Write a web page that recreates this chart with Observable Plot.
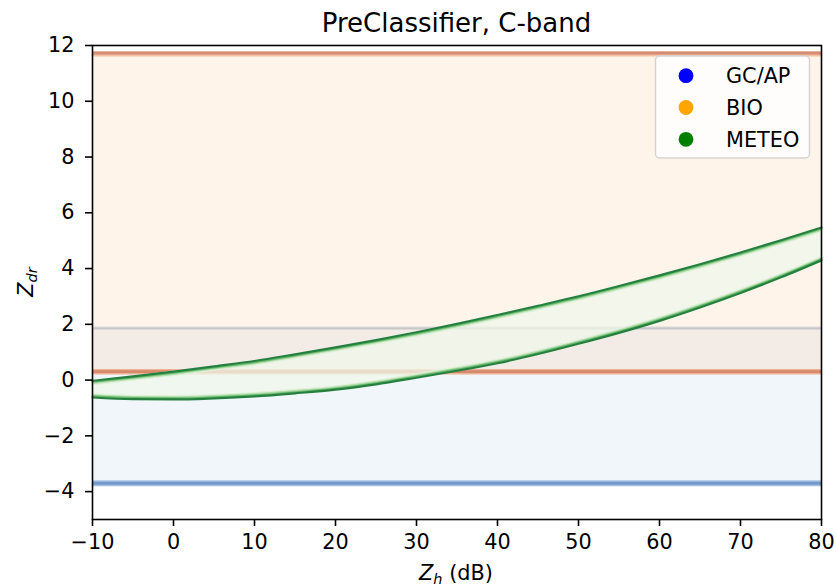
<!DOCTYPE html>
<html><head><meta charset="utf-8">
<script src="https://cdn.jsdelivr.net/npm/d3@7"></script>
<script src="https://cdn.jsdelivr.net/npm/@observablehq/plot@0.6"></script>
<style>
body{margin:0;background:#fff;}
#wrap{width:836px;height:587px;}
</style></head><body><div id="wrap"></div>
<script>
// Data
const zh = [-10,-5,0,5,10,15,20,25,30,35,40,45,50,55,60,65,70,75,80];
const zdrUpper = [0.00,0.16,0.33,0.52,0.71,0.95,1.20,1.46,1.74,2.04,2.36,2.69,3.03,3.40,3.78,4.18,4.60,5.04,5.50];
const zdrLower = [-0.65,-0.71,-0.72,-0.68,-0.61,-0.50,-0.37,-0.18,0.06,0.31,0.58,0.91,1.28,1.67,2.10,2.58,3.10,3.66,4.27];
const gcapLimits = [-3.7, 1.86];
const bioLimits = [0.3, 11.7];
const classes = ["GC/AP","BIO","METEO"];
const classColors = ["blue","orange","green"];
const xTicks = [-10,0,10,20,30,40,50,60,70,80];
const yTicks = [-4,-2,0,2,4,6,8,10,12];
const yDomain = [-5, 12];
const titleText = "PreClassifier, C-band";

const meteo = zh.map((x,i)=>({zh:x, upper:zdrUpper[i], lower:zdrLower[i]}));
const minusFmt = d => d < 0 ? "\u2212" + Math.abs(d) : String(d);

const FS = 20.8;
const curve = "monotone-x";
const upperLayers = [
  {dy:4.2, c:"#dff1da", w:2.0},
  {dy:3.1, c:"#b0dca8", w:1.8},
  {dy:2.0, c:"#66b86d", w:1.7},
  {dy:0.7, c:"#25803f", w:2.2}
];

const marks = [
  // GC/AP region
  Plot.rect([{y1:gcapLimits[0], y2:gcapLimits[1]}], {y1:"y1", y2:"y2", fill:"#f1f6fb"}),
  Plot.ruleY([gcapLimits[0]], {stroke:"#a6c0e3", strokeWidth:6}),
  Plot.ruleY([gcapLimits[0]], {stroke:"#7398cb", strokeWidth:2.8}),
  Plot.ruleY([gcapLimits[1]], {stroke:"#dbe2ea", strokeWidth:3.5}),
  Plot.ruleY([gcapLimits[1]], {stroke:"#c2cedc", strokeWidth:1.6}),
  // BIO region
  Plot.rect([{y1:bioLimits[0], y2:bioLimits[1]}], {y1:"y1", y2:"y2", fill:"#ff7f0e", fillOpacity:0.085}),
  Plot.ruleY([bioLimits[0]], {stroke:"#eeb394", strokeWidth:5.5}),
  Plot.ruleY([bioLimits[0]], {stroke:"#d6896b", strokeWidth:2.8}),
  Plot.ruleY([bioLimits[1]], {stroke:"#f2bf9f", strokeWidth:5.5}),
  Plot.ruleY([bioLimits[1]], {stroke:"#d48d74", strokeWidth:2.8, dy:-0.8}),
  // METEO region
  Plot.areaY(meteo, {x:"zh", y1:"lower", y2:"upper", fill:"#eff7ea", fillOpacity:0.75, curve}),
  ...upperLayers.map(l => Plot.line(meteo, {x:"zh", y:"upper", stroke:l.c, strokeWidth:l.w, dy:l.dy, curve})),
  ...upperLayers.map(l => Plot.line(meteo, {x:"zh", y:"lower", stroke:l.c, strokeWidth:l.w, dy:-l.dy, curve})),
  Plot.axisX({ticks:xTicks, tickSize:7, tickPadding:8, fontSize:FS, tickFormat:minusFmt, label:null, strokeWidth:1.6}),
  Plot.axisY({ticks:yTicks, tickSize:7, tickPadding:11, fontSize:FS, tickFormat:minusFmt, label:null, strokeWidth:1.6}),
  Plot.frame({stroke:"black", strokeWidth:1.6})
];

const chart = Plot.plot({
  width:836, height:587,
  marginLeft:92, marginRight:15, marginTop:45, marginBottom:68,
  x:{domain:d3.extent(xTicks)},
  y:{domain:yDomain},
  style:{fontFamily:"DejaVu Sans", fontSize:FS+"px", background:"white", color:"black", overflow:"visible"},
  marks
});
document.getElementById("wrap").appendChild(chart);

const svg = d3.select(chart);
svg.selectAll("text").attr("font-size", null).style("font-size", FS+"px").style("font-family","DejaVu Sans");
svg.selectAll("g").attr("font-size", null);
const ff = "DejaVu Sans";
// Title
svg.append("text").attr("x",456.5).attr("y",32).attr("text-anchor","middle")
  .style("font-family",ff).style("font-size","26px").attr("fill","black").text(titleText);
// X label
const xl = svg.append("text").attr("x",456).attr("y",580).attr("text-anchor","middle")
  .style("font-family",ff).style("font-size",FS+"px").attr("fill","black");
xl.append("tspan").style("font-style","italic").text("Z");
xl.append("tspan").style("font-style","italic").style("font-size","14.5px").attr("dy",4).text("h");
xl.append("tspan").attr("dy",-4).text(" (dB)");
// Y label
const yl = svg.append("text").attr("transform","translate(33,282) rotate(-90)").attr("text-anchor","middle")
  .style("font-family",ff).style("font-size",FS+"px").attr("fill","black");
yl.append("tspan").style("font-style","italic").text("Z");
yl.append("tspan").style("font-style","italic").style("font-size","14.5px").attr("dy",4).text("dr");
// Legend
const lg = svg.append("g");
lg.append("rect").attr("x",655.5).attr("y",56).attr("width",154).attr("height",102).attr("rx",4)
  .attr("fill","white").attr("fill-opacity",0.8).attr("stroke","#d3d3d3").attr("stroke-width",1.4);
classes.forEach((c,i)=>{
  const cy = 75.7 + i*31.8;
  lg.append("circle").attr("cx",686).attr("cy",cy).attr("r",7.4).attr("fill",classColors[i]);
  lg.append("text").attr("x",726).attr("y",cy).attr("dy","0.36em").attr("text-anchor","start")
    .style("font-family",ff).style("font-size",FS+"px").attr("fill","black").text(c);
});
</script>
</body></html>
